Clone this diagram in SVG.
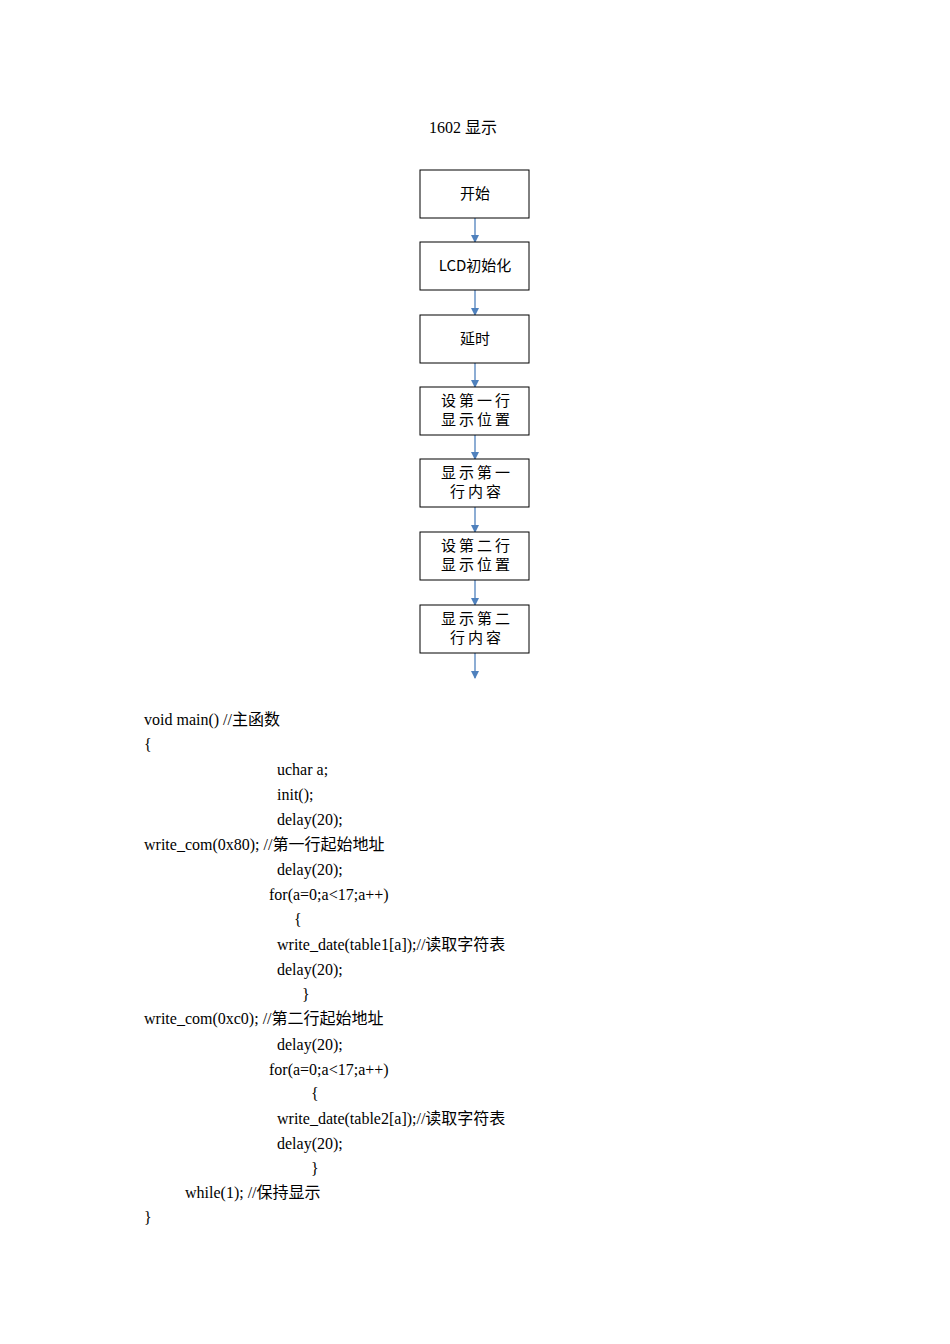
<svg xmlns="http://www.w3.org/2000/svg" width="950" height="1344" viewBox="0 0 950 1344">
<style>
.b{fill:#fff;stroke:#000;stroke-width:1}
.n{font-family:"Noto Sans CJK SC","Noto Sans",sans-serif;font-size:15px;text-anchor:middle;fill:#000}
.s{letter-spacing:3px}
.c{font-family:"Liberation Serif","Noto Sans CJK SC",serif;font-size:16px;fill:#000}
.l{stroke:#4f81bd;stroke-width:1.3;fill:none;marker-end:url(#a)}
</style>
<defs><marker id="a" markerWidth="8" markerHeight="8" refX="7" refY="4" orient="auto" markerUnits="userSpaceOnUse"><path d="M0,0L8,4L0,8z" fill="#4f81bd"/></marker></defs>
<rect width="950" height="1344" fill="#fff"/>
<text class="c" x="429" y="133">1602 显示</text>
<g id="connectors">
<line class="l" x1="475" y1="218" x2="475" y2="242"/>
<line class="l" x1="475" y1="290" x2="475" y2="315"/>
<line class="l" x1="475" y1="363" x2="475" y2="387"/>
<line class="l" x1="475" y1="435" x2="475" y2="459"/>
<line class="l" x1="475" y1="507" x2="475" y2="532"/>
<line class="l" x1="475" y1="580" x2="475" y2="605"/>
<line class="l" x1="475" y1="653" x2="475" y2="678"/>
</g>
<g id="n1"><rect class="b" x="420" y="170" width="109" height="48"/><text class="n" x="475" y="199">开始</text></g>
<g id="n2"><rect class="b" x="420" y="242" width="109" height="48"/><text class="n" x="475" y="271">LCD初始化</text></g>
<g id="n3"><rect class="b" x="420" y="315" width="109" height="48"/><text class="n" x="475" y="344">延时</text></g>
<g id="n4"><rect class="b" x="420" y="387" width="109" height="48"/><text class="n s" x="477" y="406">设第一行</text><text class="n s" x="477" y="425">显示位置</text></g>
<g id="n5"><rect class="b" x="420" y="459" width="109" height="48"/><text class="n s" x="477" y="478">显示第一</text><text class="n s" x="477" y="497">行内容</text></g>
<g id="n6"><rect class="b" x="420" y="532" width="109" height="48"/><text class="n s" x="477" y="551">设第二行</text><text class="n s" x="477" y="570">显示位置</text></g>
<g id="n7"><rect class="b" x="420" y="605" width="109" height="48"/><text class="n s" x="477" y="624">显示第二</text><text class="n s" x="477" y="643">行内容</text></g>
<g id="code" class="c">
<text x="144" y="725">void main() //主函数</text>
<text x="144" y="750">{</text>
<text x="277" y="775">uchar a;</text>
<text x="277" y="800">init();</text>
<text x="277" y="825">delay(20);</text>
<text x="144" y="850">write_com(0x80); //第一行起始地址</text>
<text x="277" y="875">delay(20);</text>
<text x="269" y="900">for(a=0;a&lt;17;a++)</text>
<text x="294" y="925">{</text>
<text x="277" y="950">write_date(table1[a]);//读取字符表</text>
<text x="277" y="975">delay(20);</text>
<text x="302" y="1000">}</text>
<text x="144" y="1024">write_com(0xc0); //第二行起始地址</text>
<text x="277" y="1050">delay(20);</text>
<text x="269" y="1075">for(a=0;a&lt;17;a++)</text>
<text x="311" y="1099">{</text>
<text x="277" y="1124">write_date(table2[a]);//读取字符表</text>
<text x="277" y="1149">delay(20);</text>
<text x="311" y="1174">}</text>
<text x="185" y="1198">while(1); //保持显示</text>
<text x="144" y="1223">}</text>
</g>
</svg>
